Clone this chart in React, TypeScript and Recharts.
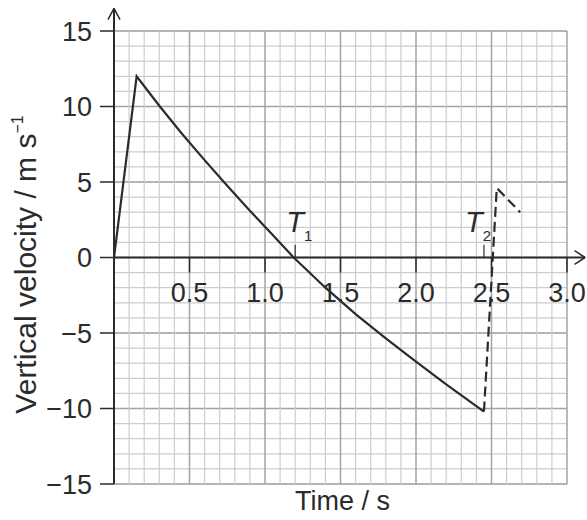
import React from 'react';
import { LineChart, Line, XAxis, YAxis, CartesianGrid, ReferenceLine } from 'recharts';

// flight of the ball: rises, slows under drag, falls, then bounces
const flightTime = [0, 0.15, 0.3, 0.45, 0.6, 0.75, 0.9, 1.05, 1.19, 1.4, 1.6, 1.8, 2.0, 2.2, 2.45];
const flightVelocity = [0, 12, 10.05, 8.2, 6.45, 4.75, 3.1, 1.5, 0, -2.0, -3.75, -5.35, -6.9, -8.4, -10.2];
const bounceTime = [2.45, 2.535, 2.69];
const bounceVelocity = [-10.2, 4.6, 3.0];

const xTickValues = [0.5, 1.0, 1.5, 2.0, 2.5, 3.0];
const xTickLabels = ['0.5', '1.0', '1.5', '2.0', '2.5', '3.0'];
const yTickValues = [-15, -10, -5, 0, 5, 10, 15];
const yTickLabels = ['\u221215', '\u221210', '\u22125', '0', '5', '10', '15'];

const markerTimes = [1.2, 2.45];
const markerNames = ['1', '2'];

const flightData = flightTime.map((t, i) => ({ t, v: flightVelocity[i] }));
const bounceData = bounceTime.map((t, i) => ({ t, v: bounceVelocity[i] }));

// graph paper: 0.1 s by 1 m/s squares, darker every 0.5 s / 5 m/s
const minorX = Array.from({ length: 31 }, (_, i) => i / 10).filter((_, i) => i % 5 !== 0);
const minorY = Array.from({ length: 31 }, (_, i) => i - 15);
const majorX = [0.5, 1.0, 1.5, 2.0, 2.5, 3.0];
const majorY = yTickValues;

const FONT = "'Liberation Sans', Arial, sans-serif";
const INK = '#2b2b2b';
const MINOR = '#cdcdcd';
const MAJOR = '#a3a3a3';

const YTitle = (props: any) => {
  const { viewBox } = props;
  const x = viewBox.x + 36;
  const y = viewBox.y + viewBox.height / 2 + 7;
  return (
    <text
      x={x}
      y={y}
      transform={`rotate(-90 ${x} ${y})`}
      textAnchor="middle"
      fontSize={30}
      fontFamily={FONT}
      fill={INK}
    >
      Vertical velocity / m s
      <tspan fontSize={16} dy={-13}>{'\u22121'}</tspan>
    </text>
  );
};

const XTitle = (props: any) => {
  const { viewBox } = props;
  return (
    <text
      x={viewBox.x + viewBox.width / 2 + 2}
      y={viewBox.y + 26}
      textAnchor="middle"
      fontSize={27}
      fontFamily={FONT}
      fill={INK}
    >
      Time / s
    </text>
  );
};

const markerLabel = (name: string, dx: number) => (props: any) => {
  const { viewBox } = props;
  return (
    <text x={viewBox.x + dx} y={viewBox.y - 13} fontFamily={FONT} fill={INK}>
      <tspan fontSize={29} fontStyle="italic">T</tspan>
      <tspan fontSize={15} dy={9}>{name}</tspan>
    </text>
  );
};

export default function App() {
  return (
    <div>
      <style>{'body{margin:0}'}</style>
      <LineChart
        width={587}
        height={520}
        margin={{ top: 31, right: 20, bottom: 0, left: 0 }}
      >
        <CartesianGrid
          stroke={MINOR}
          strokeWidth={1.2}
          vertical={false}
          horizontalValues={minorY}
        />
        <CartesianGrid
          stroke={MAJOR}
          strokeWidth={1.5}
          vertical={false}
          horizontalValues={majorY}
        />
        <XAxis
          type="number"
          dataKey="t"
          domain={[0, 3]}
          allowDataOverflow
          height={36}
          axisLine={false}
          tickLine={false}
          tick={false}
          label={XTitle}
        />
        <YAxis
          type="number"
          dataKey="v"
          domain={[-15, 15]}
          allowDataOverflow
          ticks={yTickValues}
          tickFormatter={(v: number) => yTickLabels[yTickValues.indexOf(v)]}
          width={114}
          tickSize={14}
          tickMargin={8}
          axisLine={{ stroke: INK, strokeWidth: 2 }}
          tickLine={{ stroke: INK, strokeWidth: 1.5 }}
          tick={{ fill: INK, fontSize: 27, fontFamily: FONT }}
          label={YTitle}
        />

        {minorX.map((t) => (
          <ReferenceLine key={`gx-${t}`} x={t} stroke={MINOR} strokeWidth={1.2} />
        ))}
        {majorX.map((t) => (
          <ReferenceLine key={`gX-${t}`} x={t} stroke={MAJOR} strokeWidth={1.5} />
        ))}

        {/* x axis drawn through v = 0, with arrow */}
        <ReferenceLine y={0} stroke={INK} strokeWidth={2} />
        <ReferenceLine segment={[{ x: 3, y: 0 }, { x: 3.12, y: 0 }]} stroke={INK} strokeWidth={2} ifOverflow="visible" />
        <ReferenceLine segment={[{ x: 3.05, y: 0.45 }, { x: 3.12, y: 0 }]} stroke={INK} strokeWidth={1.5} ifOverflow="visible" />
        <ReferenceLine segment={[{ x: 3.05, y: -0.45 }, { x: 3.12, y: 0 }]} stroke={INK} strokeWidth={1.5} ifOverflow="visible" />
        {/* y axis arrow */}
        <ReferenceLine segment={[{ x: 0, y: 15 }, { x: 0, y: 16.5 }]} stroke={INK} strokeWidth={2} ifOverflow="visible" />
        <ReferenceLine segment={[{ x: -0.04, y: 15.75 }, { x: 0, y: 16.5 }]} stroke={INK} strokeWidth={1.5} ifOverflow="visible" />
        <ReferenceLine segment={[{ x: 0.04, y: 15.75 }, { x: 0, y: 16.5 }]} stroke={INK} strokeWidth={1.5} ifOverflow="visible" />

        {xTickValues.map((t, i) => (
          <ReferenceLine
            key={`xt-${t}`}
            segment={[{ x: t, y: 0 }, { x: t, y: -1 }]}
            stroke={INK}
            strokeWidth={1.5}
            ifOverflow="visible"
            label={{ value: xTickLabels[i], position: 'bottom', offset: 10, fill: INK, fontSize: 27, fontFamily: FONT }}
          />
        ))}

        <ReferenceLine
          segment={[{ x: markerTimes[0], y: 0 }, { x: markerTimes[0], y: 0.85 }]}
          stroke={INK}
          strokeWidth={1.2}
          label={markerLabel(markerNames[0], -9)}
        />
        <ReferenceLine
          segment={[{ x: markerTimes[1], y: 0 }, { x: markerTimes[1], y: 0.85 }]}
          stroke={INK}
          strokeWidth={1.2}
          label={markerLabel(markerNames[1], -19)}
        />

        <Line
          data={flightData}
          dataKey="v"
          type="linear"
          stroke={INK}
          strokeWidth={2.2}
          dot={false}
          isAnimationActive={false}
        />
        <Line
          data={bounceData}
          dataKey="v"
          type="linear"
          stroke={INK}
          strokeWidth={2.2}
          strokeDasharray="10 5"
          dot={false}
          isAnimationActive={false}
        />
      </LineChart>
    </div>
  );
}
